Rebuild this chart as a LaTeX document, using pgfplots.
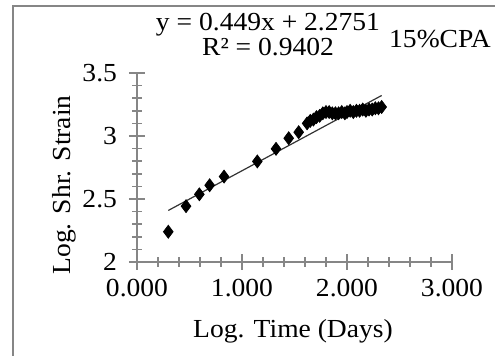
\documentclass[border=0pt]{standalone}
\usepackage{pgfplots}
\pgfplotsset{compat=1.18}
\usepackage{fontspec}
\setmainfont[FakeStretch=1.06]{Liberation Serif}
\definecolor{axgray}{RGB}{134,134,134}
\begin{document}
\fontsize{13pt}{15pt}\selectfont
\begin{tikzpicture}
\draw[axgray, line width=1.1pt] (6.5pt,-5pt) rectangle (255pt,175pt);
\node[anchor=base] at (128pt,180.6pt) {(a)};
\begin{axis}[
  scale only axis,
  width=157.5pt, height=94.5pt,
  at={(68.5pt,47pt)}, anchor=south west,
  xmin=0, xmax=3, ymin=2, ymax=3.5,
  axis lines*=left,
  axis line style={axgray, line width=0.8pt},
  xtick={0,1,2,3}, ytick={2,2.5,3,3.5},
  minor x tick num=4, minor y tick num=4,
  tick align=center,
  major tick length=8pt, minor tick length=4.7pt,
  every tick/.style={axgray, line width=0.8pt},
  /pgf/number format/assume math mode=true,
  xticklabel style={/pgf/number format/.cd, fixed, fixed zerofill, precision=3},
  yticklabel style={xshift=-1.5pt, /pgf/number format/.cd, fixed, precision=1},
  ticklabel style={font=\fontsize{13pt}{15pt}\selectfont},
  clip=false,
]
\addplot[only marks, mark=diamond*, mark size=3.2pt, black] coordinates {
(0.298,2.240) (0.467,2.443) (0.594,2.537) (0.692,2.609) (0.829,2.678)
(1.146,2.798) (1.324,2.898) (1.445,2.982) (1.540,3.030)
(1.62,3.10) (1.65,3.12) (1.68,3.13) (1.71,3.15) (1.74,3.16) (1.77,3.18)
(1.80,3.19) (1.83,3.19) (1.86,3.18) (1.89,3.18) (1.92,3.18) (1.95,3.19)
(1.98,3.18) (2.00,3.19) (2.03,3.20) (2.06,3.19) (2.09,3.20) (2.12,3.20)
(2.15,3.21) (2.18,3.20) (2.21,3.21) (2.24,3.21) (2.27,3.22) (2.30,3.22)
(2.33,3.23)
};
\addplot[black!80, line width=0.6pt] coordinates {(0.298,2.4089) (2.33,3.3213)};
\end{axis}
\node[anchor=base] at (134pt,162.6pt) {y = 0.449x + 2.2751};
\node[anchor=base] at (134pt,150.3pt) {R² = 0.9402};
\node[anchor=base] at (220pt,154pt) {15\%CPA};
\node[anchor=base] at (146.5pt,9pt) {Log. Time (Days)};
\node[rotate=90, anchor=base] at (35pt,85.5pt) {Log. Shr. Strain};
\pgfresetboundingbox
\path[use as bounding box] (0,0) rectangle (247.5pt,178pt);
\end{tikzpicture}
\end{document}
